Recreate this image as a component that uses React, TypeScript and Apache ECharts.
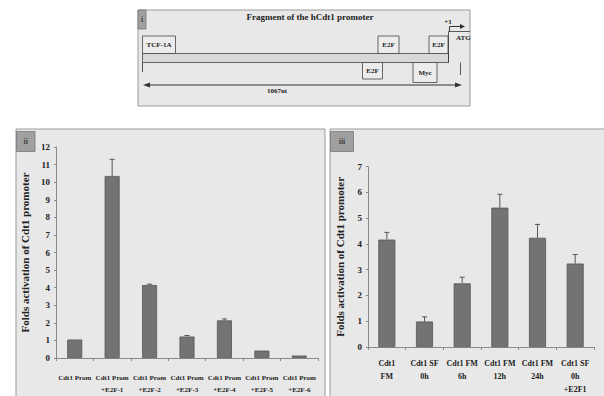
import React, { useEffect, useRef } from "react";
import * as echarts from "echarts";

const iiCategories = [
  "Cdt1 Prom",
  "Cdt1 Prom\n+E2F-1",
  "Cdt1 Prom\n+E2F-2",
  "Cdt1 Prom\n+E2F-3",
  "Cdt1 Prom\n+E2F-4",
  "Cdt1 Prom\n+E2F-5",
  "Cdt1 Prom\n+E2F-6",
];
const iiValues = [1.05, 10.35, 4.15, 1.22, 2.14, 0.42, 0.14];
const iiErrors = [0, 0.95, 0.05, 0.06, 0.08, 0, 0];
const iiTicks = { min: 0, max: 12, interval: 1 };

const iiiCategories = [
  "Cdt1\nFM",
  "Cdt1 SF\n0h",
  "Cdt1 FM\n6h",
  "Cdt1 FM\n12h",
  "Cdt1 FM\n24h",
  "Cdt1 SF\n0h\n+E2F1",
];
const iiiValues = [4.17, 0.99, 2.47, 5.41, 4.24, 3.24];
const iiiErrors = [0.28, 0.18, 0.24, 0.52, 0.52, 0.35];
const iiiTicks = { min: 0, max: 7, interval: 1 };

const yTitle = "Folds activation of Cdt1 promoter";
const panelTitle = "Fragment of the hCdt1 promoter";

const SERIF = "'Liberation Serif', 'DejaVu Serif', serif";
const BAR = "#737373";
const BAR_BORDER = "#555";
const PANEL_BG = "#e8e8e8";
const PANEL_STROKE = "#9a9a9a";
const TEXT = "#222";

function errRender(params: any, api: any) {
  const x = api.value(0);
  const v = api.value(1);
  const e = api.value(2);
  if (!e) return { type: "group", children: [] };
  const p0 = api.coord([x, v]);
  const p1 = api.coord([x, v + e]);
  const st = { stroke: "#555", lineWidth: 1 };
  return {
    type: "group",
    children: [
      { type: "line", shape: { x1: p0[0], y1: p0[1], x2: p1[0], y2: p1[1] }, style: st },
      { type: "line", shape: { x1: p1[0] - 2.5, y1: p1[1], x2: p1[0] + 2.5, y2: p1[1] }, style: st },
    ],
  };
}

function boxText(x: number, y: number, w: number, h: number, label: string) {
  return [
    { type: "rect", shape: { x, y, width: w, height: h }, style: { fill: "#ececec", stroke: "#444", lineWidth: 0.8 } },
    {
      type: "text",
      x: x + w / 2,
      y: y + h / 2,
      style: { text: label, fill: TEXT, font: `bold 7px ${SERIF}`, textAlign: "center", textVerticalAlign: "middle" },
    },
  ];
}

export default function App() {
  const ref = useRef<HTMLDivElement>(null);
  useEffect(() => {
    if (!ref.current) return;
    const chart = echarts.init(ref.current, undefined, { renderer: "svg" });
    const axisLineStyle = { lineStyle: { color: "#8a8a8a", width: 1 } };
    const yLabel = { color: TEXT, fontFamily: SERIF, fontWeight: "bold" as const, fontSize: 9, margin: 6 };
    const line = (x1: number, y1: number, x2: number, y2: number, w = 1, c = "#333") => ({
      type: "line",
      shape: { x1, y1, x2, y2 },
      style: { stroke: c, lineWidth: w },
    });
    const graphic: any[] = [
      // panel i
      { type: "rect", shape: { x: 138, y: 10, width: 332, height: 96 }, style: { fill: PANEL_BG, stroke: PANEL_STROKE, lineWidth: 1 }, z: -10 },
      { type: "rect", shape: { x: 138, y: 10, width: 8, height: 19 }, style: { fill: "#a0a0a0", stroke: "#777", lineWidth: 0.8 }, z: -9 },
      { type: "text", x: 142, y: 19.5, style: { text: "i", fill: "#444", font: `bold 8px ${SERIF}`, textAlign: "center", textVerticalAlign: "middle" } },
      { type: "text", x: 310, y: 17, style: { text: panelTitle, fill: TEXT, font: `bold 9px ${SERIF}`, textAlign: "center", textVerticalAlign: "middle" } },
      { type: "rect", shape: { x: 142.5, y: 53.5, width: 306, height: 9 }, style: { fill: "#d8d8d8", stroke: "#444", lineWidth: 0.8 } },
      ...boxText(142.5, 36, 33, 17.5, "TCF-1A"),
      ...boxText(378, 36, 21, 17.5, "E2F"),
      ...boxText(429, 36, 19, 17.5, "E2F"),
      ...boxText(362.5, 62.5, 20, 16.5, "E2F"),
      ...boxText(413, 62.5, 24, 20, "Myc"),
      line(448.5, 31.5, 448.5, 62.5, 0.8),
      line(448.5, 31.5, 470, 31.5, 0.8),
      { type: "text", x: 456, y: 38, style: { text: "ATG", fill: TEXT, font: `bold 7px ${SERIF}`, textAlign: "left", textVerticalAlign: "middle" } },
      { type: "text", x: 448, y: 22, style: { text: "+1", fill: TEXT, font: `bold 7px ${SERIF}`, textAlign: "center", textVerticalAlign: "middle" } },
      line(449.5, 31.5, 449.5, 26.5, 1),
      line(449.5, 26.5, 461, 26.5, 1),
      { type: "polygon", shape: { points: [[465, 26.5], [460, 24], [460, 29]] }, style: { fill: "#333" } },
      line(142.5, 62.5, 142.5, 72, 0.8),
      line(460.5, 62.5, 460.5, 75, 0.8),
      line(148, 85, 457, 85, 1),
      { type: "polygon", shape: { points: [[143, 85], [150, 82.5], [150, 87.5]] }, style: { fill: "#333" } },
      { type: "polygon", shape: { points: [[462, 85], [455, 82.5], [455, 87.5]] }, style: { fill: "#333" } },
      { type: "text", x: 277, y: 91, style: { text: "1067nt", fill: TEXT, font: `bold 7px ${SERIF}`, textAlign: "center", textVerticalAlign: "middle" } },
      // panel ii
      { type: "rect", shape: { x: 16, y: 129, width: 309, height: 275 }, style: { fill: PANEL_BG, stroke: PANEL_STROKE, lineWidth: 1 }, z: -10 },
      { type: "rect", shape: { x: 16.5, y: 131.5, width: 18.5, height: 20 }, style: { fill: "#a0a0a0", stroke: "#777", lineWidth: 0.8 }, z: -9 },
      { type: "text", x: 25.8, y: 141.5, style: { text: "ii", fill: "#444", font: `bold 8px ${SERIF}`, textAlign: "center", textVerticalAlign: "middle" } },
      // panel iii
      { type: "rect", shape: { x: 330, y: 129, width: 280, height: 275 }, style: { fill: PANEL_BG, stroke: PANEL_STROKE, lineWidth: 1 }, z: -10 },
      { type: "rect", shape: { x: 330.5, y: 131.5, width: 23, height: 20 }, style: { fill: "#a0a0a0", stroke: "#777", lineWidth: 0.8 }, z: -9 },
      { type: "text", x: 342, y: 141.5, style: { text: "iii", fill: "#444", font: `bold 8px ${SERIF}`, textAlign: "center", textVerticalAlign: "middle" } },
    ];

    chart.setOption({
      animation: false,
      backgroundColor: "#ffffff",
      graphic: { elements: graphic },
      grid: [
        { left: 56, top: 147, width: 262, height: 218 },
        { left: 368, top: 166.7, width: 226, height: 183.3 },
      ],
      xAxis: [
        {
          type: "category",
          gridIndex: 0,
          data: iiCategories,
          axisLine: axisLineStyle,
          axisTick: { show: true, length: 3, lineStyle: { color: "#8a8a8a" } },
          axisLabel: { color: TEXT, fontFamily: SERIF, fontWeight: "bold", fontSize: 7, lineHeight: 12, margin: 14, interval: 0 },
        },
        {
          type: "category",
          gridIndex: 1,
          data: iiiCategories,
          axisLine: axisLineStyle,
          axisTick: { show: true, length: 3, lineStyle: { color: "#8a8a8a" } },
          axisLabel: { color: TEXT, fontFamily: SERIF, fontWeight: "bold", fontSize: 8, lineHeight: 13, margin: 10, interval: 0 },
        },
      ],
      yAxis: [
        {
          type: "value",
          gridIndex: 0,
          ...iiTicks,
          axisLine: { show: true, ...axisLineStyle },
          axisTick: { show: true, length: 2, lineStyle: { color: "#8a8a8a" } },
          splitLine: { show: false },
          axisLabel: yLabel,
          name: yTitle,
          nameLocation: "middle",
          nameGap: 26,
          nameTextStyle: { color: TEXT, fontFamily: SERIF, fontWeight: "bold", fontSize: 11 },
        },
        {
          type: "value",
          gridIndex: 1,
          ...iiiTicks,
          axisLine: { show: true, ...axisLineStyle },
          axisTick: { show: true, length: 2, lineStyle: { color: "#8a8a8a" } },
          splitLine: { show: false },
          axisLabel: yLabel,
          name: yTitle,
          nameLocation: "middle",
          nameGap: 23,
          nameTextStyle: { color: TEXT, fontFamily: SERIF, fontWeight: "bold", fontSize: 11 },
        },
      ],
      series: [
        {
          type: "bar",
          xAxisIndex: 0,
          yAxisIndex: 0,
          data: iiValues,
          barWidth: 15,
          itemStyle: { color: BAR, borderColor: BAR_BORDER, borderWidth: 0.8 },
        },
        {
          type: "custom",
          xAxisIndex: 0,
          yAxisIndex: 0,
          renderItem: errRender,
          data: iiValues.map((v, i) => [i, v, iiErrors[i]]),
          encode: { x: 0, y: 1 },
          z: 3,
        },
        {
          type: "bar",
          xAxisIndex: 1,
          yAxisIndex: 1,
          data: iiiValues,
          barWidth: 17,
          itemStyle: { color: BAR, borderColor: BAR_BORDER, borderWidth: 0.8 },
        },
        {
          type: "custom",
          xAxisIndex: 1,
          yAxisIndex: 1,
          renderItem: errRender,
          data: iiiValues.map((v, i) => [i, v, iiiErrors[i]]),
          encode: { x: 0, y: 1 },
          z: 3,
        },
      ],
    });
    return () => chart.dispose();
  }, []);
  return <div ref={ref} style={{ position: "absolute", left: 0, top: 0, width: 604, height: 396 }} />;
}
